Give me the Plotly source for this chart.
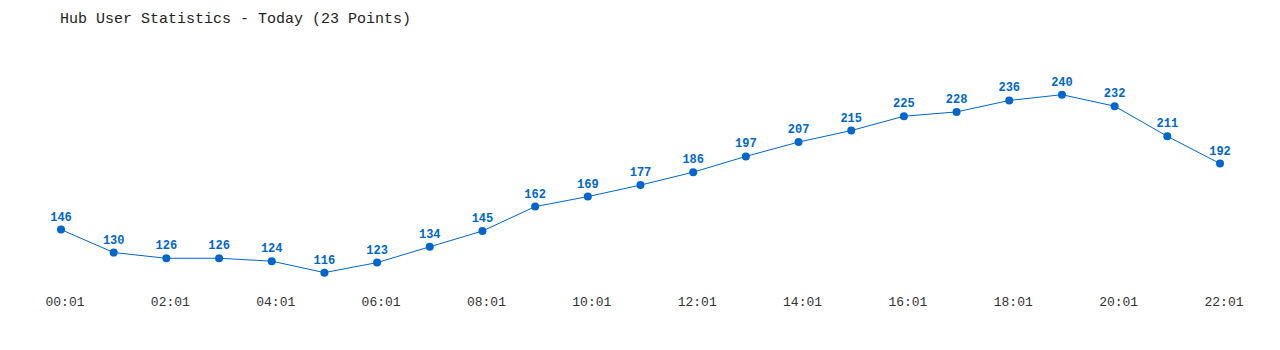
import plotly.graph_objects as go

hours = ["00:01", "01:01", "02:01", "03:01", "04:01", "05:01", "06:01", "07:01",
         "08:01", "09:01", "10:01", "11:01", "12:01", "13:01", "14:01", "15:01",
         "16:01", "17:01", "18:01", "19:01", "20:01", "21:01", "22:01"]
users = [146, 130, 126, 126, 124, 116, 123, 134, 145, 162, 169, 177, 186, 197,
         207, 215, 225, 228, 236, 240, 232, 211, 192]
tick_labels = hours[::2]

color = "#0066cc"
fig = go.Figure()
fig.add_trace(go.Scatter(
    x=hours, y=users, mode="lines+markers+text",
    line=dict(color=color, width=1),
    marker=dict(color=color, size=8),
    text=[str(v) for v in users], textposition="top center",
    textfont=dict(family="Liberation Mono", size=12, color=color, weight="bold"),
    cliponaxis=False, hoverinfo="x+y"
))
fig.update_layout(
    width=1280, height=350,
    margin=dict(l=61, r=60, t=66, b=58),
    paper_bgcolor="white", plot_bgcolor="white",
    showlegend=False,
    title=dict(text="Hub User Statistics - Today (23 Points)",
               x=60/1280, xref="container", xanchor="left",
               y=1-18/350, yref="container", yanchor="middle",
               font=dict(family="Liberation Mono", size=15, color="#222222")),
    xaxis=dict(type="category", range=[0, 22], showgrid=False, zeroline=False,
               showline=False, tickmode="array", tickvals=tick_labels,
               ticktext=tick_labels, ticklabelshift=4,
               tickfont=dict(family="Liberation Mono", size=13, color="#333333")),
    yaxis=dict(range=[102.5, 260], visible=False, showgrid=False),
)
fig.write_html("out.html")
